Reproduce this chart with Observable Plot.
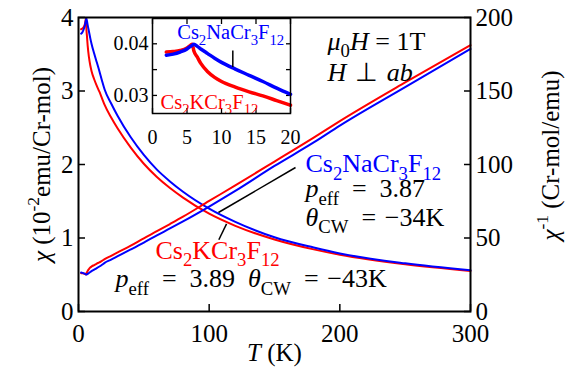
<!DOCTYPE html>
<html><head><meta charset="utf-8">
<script src="https://cdn.jsdelivr.net/npm/d3@7"></script>
<script src="https://cdn.jsdelivr.net/npm/@observablehq/plot@0.6"></script>
<style>
body{margin:0;background:#fff;}
#wrap{position:relative;width:573px;height:382px;}
#wrap svg{position:absolute;left:0;top:0;overflow:visible;}
#wrap svg, #wrap svg text, #wrap svg tspan{font-family:"Liberation Serif", "Times New Roman", Times, serif !important;}
</style></head><body><div id="wrap"></div>
<script>
// ---- data ----
const temps  = [2,3,4,5,5.5,5.75,6,6.5,7,8,9,10,12,14,16,18,20,25,30,40,50,60,70,80,100,120,150,180,200,250,300];
// chi in 10^-2 emu/Cr-mol
const chiNa  = [3.78,3.80,3.84,3.90,3.95,3.97,3.99,3.95,3.90,3.81,3.72,3.64,3.51,3.39,3.27,3.14,3.02,2.83,2.66,2.37,2.13,1.93,1.77,1.63,1.40,1.22,1.01,0.87,0.79,0.655,0.56];
const chiK   = [3.84,3.85,3.87,3.92,3.97,3.99,3.86,3.74,3.62,3.46,3.35,3.27,3.16,3.07,2.99,2.90,2.81,2.64,2.49,2.23,2.01,1.83,1.68,1.55,1.33,1.165,0.98,0.845,0.772,0.642,0.552];
// chi^-1 in Cr-mol/emu
const invNa  = [26.5,26.3,26.0,25.6,25.3,25.2,25.1,25.3,25.6,26.2,26.9,27.5,28.5,29.5,30.6,31.8,33.1,35.3,37.6,42.2,46.9,51.8,56.5,61.3,71.4,82.0,99.0,115.0,126.5,152.7,178.6];
const invK   = [26.0,26.0,25.8,25.5,25.2,25.1,25.9,26.7,27.6,28.9,29.9,30.6,31.6,32.6,33.4,34.5,35.6,37.9,40.2,44.8,49.8,54.6,59.5,64.5,75.2,85.8,102.0,118.3,129.5,155.8,181.2];

const xTicks = [0,100,200,300];
const yLeftTicks = [0,1,2,3,4];
const yRightTicks = [0,50,100,150,200];
const insetXTicks = [0,5,10,15,20];
const insetYTicks = [0.03,0.035,0.04];
const insetYLabeled = [0.03,0.04];

const nameNa = "Cs_{2}NaCr_{3}F_{12}";
const nameK  = "Cs_{2}KCr_{3}F_{12}";
const SP = "\u2002";  // en space, as in the reference typesetting
const SP2 = "\u2004"; // three-per-em space

const BLUE = "#0000ff", RED = "#ff0000";
const FONT = "Liberation Serif, Times New Roman, serif";
const RIGHT_PER_LEFT = 200 / 4; // right axis units per left axis unit

const rows = temps.map((T, i) => ({T, chiNa: chiNa[i], chiK: chiK[i], invNa: invNa[i], invK: invK[i]}));
const insetRows = rows.filter(d => d.T <= 20);

// annotations (data coordinates)
const mainNotes = [
  {T: 190.6, v: 3.67, text: "*{μ}_{0}*{H} = 1T", color: "black"},
  {T: 190.6, v: 3.256, text: `*{H}${SP2}⊥${SP2}*{ab}`, color: "black"},
  {T: 173.7, v: 2.008, text: nameNa, color: BLUE},
  {T: 173.7, v: 1.668, text: `*{p}_{eff}${SP}=${SP}3.87`, color: "black"},
  {T: 173.7, v: 1.283, text: `*{θ}_{CW}${SP}=${SP2}−34K`, color: "black"},
  {T: 58.9, v: 0.830, text: nameK, color: RED},
  {T: 28.3, v: 0.4435, text: `*{p}_{eff}${SP}=${SP}3.89${SP}*{θ}_{CW}${SP}=${SP2}−43K`, color: "black"}
];
const leaders = [
  {x1: 166.1, y1: 1.959, x2: 107.1, y2: 1.347},
  {x1: 113.3, y1: 1.193, x2: 107.4, y2: 0.976}
];
const insetNotes = [
  {T: 3.58, v: 0.04224, text: nameNa, color: BLUE},
  {T: 1.16, v: 0.02870, text: nameK, color: RED}
];
const insetLeader = [{x1: 11.64, y1: 0.0387, x2: 11.64, y2: 0.0355}];

const main = Plot.plot({
  width: 573, height: 382,
  marginLeft: 78, marginRight: 103, marginTop: 17, marginBottom: 71,
  style: {fontFamily: FONT, fontSize: "25px", background: "transparent", color: "black", overflow: "visible"},
  x: {domain: [0, 300]},
  y: {domain: [0, 4]},
  marks: [
    Plot.axisX(xTicks, {anchor: "bottom", tickSize: -7, tickPadding: 20, strokeWidth: 1.5, tickFormat: d => String(d), label: null}),
    Plot.axisY(yLeftTicks, {anchor: "left", tickSize: -7, tickPadding: 12, strokeWidth: 1.5, tickFormat: d => String(d), label: null}),
    Plot.axisY(yRightTicks.map(v => v / RIGHT_PER_LEFT), {anchor: "right", tickSize: -7, tickPadding: 12, strokeWidth: 1.5, tickFormat: d => String(Math.round(d * RIGHT_PER_LEFT)), label: null}),
    Plot.line(rows, {x: "T", y: "chiK", stroke: RED, strokeWidth: 2, curve: "monotone-x"}),
    Plot.line(rows, {x: "T", y: "chiNa", stroke: BLUE, strokeWidth: 2, curve: "monotone-x"}),
    Plot.line(rows, {x: "T", y: d => d.invK / RIGHT_PER_LEFT, stroke: RED, strokeWidth: 2, curve: "monotone-x"}),
    Plot.line(rows, {x: "T", y: d => d.invNa / RIGHT_PER_LEFT, stroke: BLUE, strokeWidth: 2, curve: "monotone-x"}),
    Plot.link(leaders, {x1: "x1", y1: "y1", x2: "x2", y2: "y2", stroke: "black", strokeWidth: 1.5}),
    Plot.text(mainNotes, {x: "T", y: "v", text: "text", fill: "color", textAnchor: "start", fontSize: 26}),
    Plot.text(["*{χ} (10^{-2}emu/Cr-mol)"], {frameAnchor: "left", textAnchor: "middle", text: d => d, rotate: -90, dx: -37, fontSize: 25}),
    Plot.text(["*{χ}^{-1} (Cr-mol/emu)"], {frameAnchor: "right", textAnchor: "middle", text: d => d, rotate: -90, dx: 80, dy: -9, fontSize: 25}),
    Plot.text(["*{T} (K)"], {frameAnchor: "bottom", textAnchor: "middle", text: d => d, dy: 49, fontSize: 25}),
    Plot.frame({stroke: "black", strokeWidth: 2})
  ]
});

const inset = Plot.plot({
  width: 573, height: 382,
  marginLeft: 152, marginRight: 283, marginTop: 18, marginBottom: 269,
  style: {fontFamily: FONT, fontSize: "20px", background: "transparent", color: "black", overflow: "visible"},
  x: {domain: [0, 20]},
  y: {domain: [0.0265, 0.0449]},
  marks: [
    Plot.frame({fill: "white", stroke: "none"}),
    Plot.axisX(insetXTicks, {anchor: "bottom", tickSize: -5, tickPadding: 21, strokeWidth: 1.3, tickFormat: d => String(d), label: null}),
    Plot.axisX(insetXTicks, {anchor: "top", tickSize: -5, tickPadding: 0, strokeWidth: 1.3, tickFormat: () => "", label: null}),
    Plot.axisY(insetYTicks, {anchor: "left", tickSize: -5, tickPadding: 9, strokeWidth: 1.3, tickFormat: d => insetYLabeled.includes(d) ? d.toFixed(2) : "", label: null}),
    Plot.axisY(insetYTicks, {anchor: "right", tickSize: -5, tickPadding: 0, strokeWidth: 1.3, tickFormat: () => "", label: null}),
    Plot.line(insetRows, {x: "T", y: d => d.chiK / 100, stroke: RED, strokeWidth: 3.5, curve: "monotone-x"}),
    Plot.line(insetRows, {x: "T", y: d => d.chiNa / 100, stroke: BLUE, strokeWidth: 3.5, curve: "monotone-x"}),
    Plot.link(insetLeader, {x1: "x1", y1: "y1", x2: "x2", y2: "y2", stroke: "black", strokeWidth: 1.5}),
    Plot.text(insetNotes, {x: "T", y: "v", text: "text", fill: "color", textAnchor: "start", fontSize: 20.5}),
    Plot.frame({stroke: "black", strokeWidth: 1.5})
  ]
});

const wrap = document.getElementById("wrap");
wrap.appendChild(main);
wrap.appendChild(inset);

// turn simple markup into real tspans: _{sub} ^{sup} *{italic}
function richify(svg) {
  const ns = "http://www.w3.org/2000/svg";
  svg.querySelectorAll("text").forEach(t => {
    const s = t.textContent;
    if (!/[_^*]\{/.test(s)) return;
    const fs = parseFloat(getComputedStyle(t).fontSize) || 20;
    while (t.firstChild) t.removeChild(t.firstChild);
    const re = /([_^*])\{([^}]*)\}|([^_^*]+|[_^*])/g;
    let m, shift = 0;
    while ((m = re.exec(s))) {
      const kind = m[1] || "";
      const str = m[1] ? m[2] : m[3];
      const ts = document.createElementNS(ns, "tspan");
      let target = 0, size = null, italic = false;
      if (kind === "_") { target = 0.28 * fs; size = 0.72 * fs; }
      else if (kind === "^") { target = -0.42 * fs; size = 0.7 * fs; }
      else if (kind === "*") { italic = true; }
      const d = target - shift;
      if (d) ts.setAttribute("dy", d.toFixed(2));
      shift = target;
      if (size) ts.setAttribute("font-size", size.toFixed(2));
      if (italic) ts.setAttribute("font-style", "italic");
      ts.textContent = str;
      t.appendChild(ts);
    }
  });
}
richify(main);
richify(inset);
</script>
</body></html>
